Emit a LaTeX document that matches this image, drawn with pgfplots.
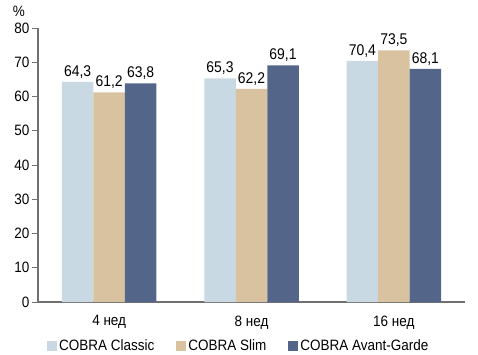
\documentclass[border=0pt]{standalone}
\usepackage{fontspec}
\setmainfont{Liberation Sans}[FakeStretch=0.9]
\usepackage{pgfplots}
\pgfplotsset{compat=1.18}
\definecolor{cA}{HTML}{C9D9E3}
\definecolor{cB}{HTML}{D9C2A0}
\definecolor{cC}{HTML}{536589}
\definecolor{axg}{HTML}{707070}
\begin{document}
\begin{tikzpicture}
\useasboundingbox (-38pt,-52pt) rectangle (440pt,302pt);
\begin{axis}[
  at={(0pt,0pt)}, anchor=origin,
  scale only axis, width=427pt, height=274pt,
  xmin=0, xmax=3, ymin=0, ymax=80,
  ybar=0pt, bar width=31.5pt,
  axis x line*=bottom, axis y line*=left,
  axis line style={axg, line width=1.8pt, -},
  xtick={0.5,1.5,2.5},
  xticklabels={4 нед,8 нед,16 нед},
  major x tick style={draw=none},
  extra x ticks={1,2,3}, extra x tick labels={},
  extra x tick style={major tick length=6pt, tick style={axg, line width=1pt}, tick align=outside},
  ytick={0,10,...,80},
  y tick style={axg, line width=1pt},
  major tick length=6pt, tick align=outside,
  /pgf/number format/assume math mode=true,
  ticklabel style={font=\fontsize{15}{16}\selectfont},
  yticklabel style={xshift=1pt},
  xticklabel style={yshift=-4pt},
  nodes near coords={\pgfmathprintnumber[use comma,fixed,fixed zerofill,precision=1]{\pgfplotspointmeta}},
  every node near coord/.append style={font=\fontsize{15.5}{16}\selectfont, black, yshift=0pt},
  legend style={at={(0.47,-54pt)}, anchor=south, draw=none, legend columns=3,
    font=\fontsize{15}{16}\selectfont, /tikz/every even column/.append style={column sep=20pt}},
  legend image code/.code={\fill[#1] (0pt,-5pt) rectangle (10pt,5pt);},
  clip=false,
]
\addplot[fill=cA, draw=none] coordinates {(0.5,64.3) (1.5,65.3) (2.5,70.4)};
\addplot[fill=cB, draw=none] coordinates {(0.5,61.2) (1.5,62.2) (2.5,73.5)};
\addplot[fill=cC, draw=none] coordinates {(0.5,63.8) (1.5,69.1) (2.5,68.1)};
\legend{COBRA Classic, COBRA Slim, COBRA Avant-Garde}
\node[font=\fontsize{15}{16}\selectfont] at (axis cs:0,80) [xshift=-19pt, yshift=17pt] {\%};
\end{axis}
\end{tikzpicture}
\end{document}
